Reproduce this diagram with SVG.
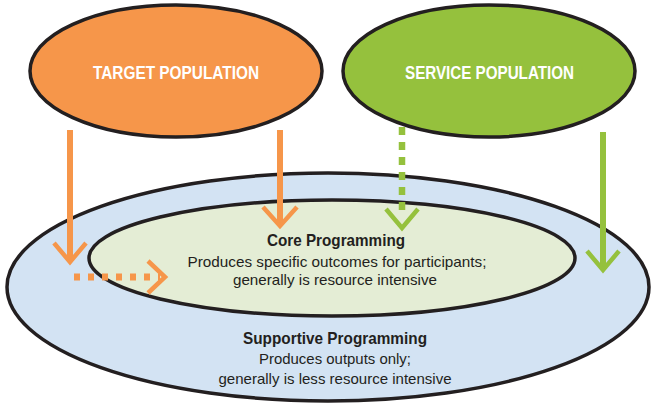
<svg xmlns="http://www.w3.org/2000/svg" width="651" height="403" viewBox="0 0 651 403">
<style>
.ell{stroke:#231f20;stroke-width:3.5}
.hd{font-family:"Liberation Sans",Arial,sans-serif;font-weight:bold;fill:#ffffff;text-anchor:middle}
.tt{font-family:"Liberation Sans",Arial,sans-serif;font-weight:bold;fill:#231f20;text-anchor:middle}
.tx{font-family:"Liberation Sans",Arial,sans-serif;fill:#231f20;text-anchor:middle}
.or{stroke:#f6964a;fill:none}
.gr{stroke:#95c13d;fill:none}
.shaft{stroke-width:6}
.head{stroke-width:4.5;stroke-linecap:butt}
</style>
<rect width="651" height="403" fill="#ffffff"/>
<g id="supportive">
<ellipse class="ell" cx="328" cy="287" rx="321" ry="114" fill="#d3e3f3"/>
<text class="tt" x="335" y="344" font-size="17" textLength="184" lengthAdjust="spacingAndGlyphs">Supportive Programming</text>
<text class="tx" x="335" y="364" font-size="14.5" textLength="152" lengthAdjust="spacingAndGlyphs">Produces outputs only;</text>
<text class="tx" x="335" y="384" font-size="14.5" textLength="233" lengthAdjust="spacingAndGlyphs">generally is less resource intensive</text>
</g>
<g id="core">
<ellipse class="ell" cx="332" cy="258" rx="243" ry="58" fill="#e4edd5"/>
<text class="tt" x="336" y="246" font-size="16.5" textLength="138" lengthAdjust="spacingAndGlyphs">Core Programming</text>
<text class="tx" x="337" y="267" font-size="14.5" textLength="299" lengthAdjust="spacingAndGlyphs">Produces specific outcomes for participants;</text>
<text class="tx" x="335" y="285" font-size="14.5" textLength="204" lengthAdjust="spacingAndGlyphs">generally is resource intensive</text>
</g>
<g id="target">
<ellipse class="ell" cx="176" cy="71" rx="146" ry="66" fill="#f6964a"/>
<text class="hd" x="176" y="79" font-size="18" textLength="166" lengthAdjust="spacingAndGlyphs">TARGET POPULATION</text>
</g>
<g id="service">
<ellipse class="ell" cx="489" cy="71" rx="146" ry="66" fill="#95c13d"/>
<text class="hd" x="489.5" y="79" font-size="18" textLength="169" lengthAdjust="spacingAndGlyphs">SERVICE POPULATION</text>
</g>
<g id="connectors">
<line class="or shaft" x1="70" y1="130" x2="70" y2="261"/>
<polyline class="or head" points="54,243 70,262 86,243"/>
<line class="or" stroke-width="7" stroke-dasharray="6 8" x1="74" y1="277" x2="160" y2="277"/>
<polyline class="or head" points="148,261 165,277 148,293"/>
<line class="or shaft" x1="280" y1="130" x2="280" y2="225"/>
<polyline class="or head" points="263,207 280,226 297,207"/>
<line class="gr" stroke-width="6.5" stroke-dasharray="8 7" x1="402" y1="127" x2="402" y2="214"/>
<polyline class="gr head" points="386,209 402,228 418,209"/>
<line class="gr shaft" x1="603" y1="132" x2="603" y2="269"/>
<polyline class="gr head" points="587,251 603,270 619,251"/>
</g>
</svg>
